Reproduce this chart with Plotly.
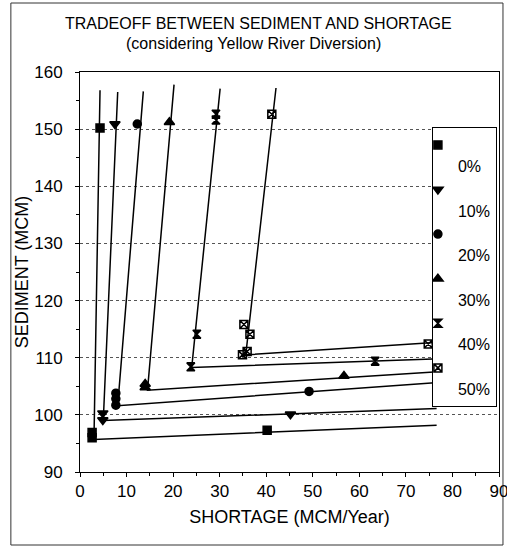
import plotly.graph_objects as go

# ---------------- data ----------------
series_names = ["0%", "10%", "20%", "30%", "40%", "50%"]

# observed points: shortage (MCM/Year) and sediment (MCM)
shortage_0 = [4.3, 2.6, 2.6, 40.2]
sediment_0 = [150.2, 96.9, 96.0, 97.3]
shortage_10 = [7.5, 4.9, 4.9, 45.2]
sediment_10 = [150.9, 100.3, 99.1, 100.1]
shortage_20 = [12.3, 7.7, 7.7, 7.7, 49.2]
sediment_20 = [150.9, 103.8, 102.8, 101.7, 104.1]
shortage_30 = [19.2, 14.0, 14.0, 56.7]
sediment_30 = [151.2, 105.4, 104.8, 106.8]
shortage_40 = [29.2, 29.2, 25.1, 23.8, 63.4]
sediment_40 = [152.6, 151.6, 114.1, 108.4, 109.4]
shortage_50 = [41.2, 35.2, 36.5, 34.9, 35.9, 74.8]
sediment_50 = [152.6, 115.8, 114.1, 110.5, 111.1, 112.4]

# fitted trade-off lines: top of steep part, corner, end of flat part
line_shortage_0 = [4.3, 3.0, 76.6]
line_sediment_0 = [156.8, 95.7, 98.2]
line_shortage_10 = [8.1, 5.0, 76.6]
line_sediment_10 = [156.5, 99.0, 101.1]
line_shortage_20 = [13.6, 8.1, 77.7]
line_sediment_20 = [156.6, 101.6, 105.7]
line_shortage_30 = [20.2, 14.5, 77.7]
line_sediment_30 = [157.8, 104.3, 107.6]
line_shortage_40 = [30.1, 24.0, 77.3]
line_sediment_40 = [157.1, 108.3, 109.8]
line_shortage_50 = [42.1, 35.6, 77.0]
line_sediment_50 = [157.2, 110.5, 112.7]

x_ticks = [0, 10, 20, 30, 40, 50, 60, 70, 80, 90]
y_ticks = [90, 100, 110, 120, 130, 140, 150, 160]

points = [
    (shortage_0, sediment_0), (shortage_10, sediment_10), (shortage_20, sediment_20),
    (shortage_30, sediment_30), (shortage_40, sediment_40), (shortage_50, sediment_50),
]
lines = [
    (line_shortage_0, line_sediment_0), (line_shortage_10, line_sediment_10),
    (line_shortage_20, line_sediment_20), (line_shortage_30, line_sediment_30),
    (line_shortage_40, line_sediment_40), (line_shortage_50, line_sediment_50),
]

# ---------------- styles ----------------
symbols = ["square", "triangle-down", "circle", "triangle-up", "hourglass", "square-x-open"]
sizes = [8, 9, 8, 9, 8, 8]
FONT = "Arial, Liberation Sans, sans-serif"

fig = go.Figure()
for (lx, ly) in lines:
    fig.add_trace(go.Scatter(x=lx, y=ly, mode="lines", showlegend=False,
                             line=dict(color="black", width=1.5), hoverinfo="skip"))
for name, (px_, py_), sym, sz in zip(series_names, points, symbols, sizes):
    fig.add_trace(go.Scatter(x=px_, y=py_, mode="markers", name="\u00a0<br>" + name,
                             marker=dict(symbol=sym, size=sz, color="black",
                                         line=dict(color="black", width=1.5))))

axis_common = dict(showline=True, linecolor="black", linewidth=1, mirror=True,
                   zeroline=False, ticks="outside", ticklen=4, tickcolor="black",
                   ticklabeloverflow="allow", automargin=False,
                   tickfont=dict(family=FONT, size=17, color="black"))

fig.update_layout(
    width=507, height=547,
    margin=dict(l=80, r=8, t=72, b=75),
    paper_bgcolor="white", plot_bgcolor="white",
    font=dict(family=FONT, color="black"),
    xaxis=dict(range=[0, 90], tickvals=x_ticks, showgrid=False,
               minor=dict(ticks="outside", dtick=5, ticklen=3, tickcolor="black"),
               ticklabelstandoff=0,
               title=dict(text="SHORTAGE (MCM/Year)", font=dict(family=FONT, size=18), standoff=9),
               **axis_common),
    yaxis=dict(range=[90, 160], tickvals=y_ticks, showgrid=True, gridcolor="#555",
               griddash="dot", gridwidth=1,
               minor=dict(ticks="outside", dtick=5, ticklen=3, tickcolor="black"),
               ticklabelstandoff=9,
               title=dict(text="SEDIMENT (MCM)", font=dict(family=FONT, size=18), standoff=0),
               **axis_common),
    xaxis2=dict(overlaying="x", anchor="y", side="bottom", range=[0, 90], tickvals=x_ticks,
                ticks="inside", ticklen=4, tickcolor="black", showticklabels=False,
                showgrid=False, zeroline=False, showline=False,
                minor=dict(ticks="inside", dtick=5, ticklen=3, tickcolor="black")),
    yaxis2=dict(overlaying="y", anchor="x", side="left", range=[90, 160], tickvals=y_ticks,
                ticks="inside", ticklen=4, tickcolor="black", showticklabels=False,
                showgrid=False, zeroline=False, showline=False,
                minor=dict(ticks="inside", dtick=5, ticklen=3, tickcolor="black")),
    legend=dict(x=0.995, xanchor="right", y=0.8625, yanchor="top",
                bgcolor="white", bordercolor="black", borderwidth=1,
                font=dict(family=FONT, size=16, color="black"),
                valign="top", indentation=-15, tracegroupgap=0),
    showlegend=True,
)

fig.add_annotation(text="TRADEOFF BETWEEN SEDIMENT AND SHORTAGE", xref="paper", yref="paper",
                   x=0.425, y=1.12, xanchor="center", yanchor="middle", showarrow=False,
                   font=dict(family=FONT, size=16, color="black"))
fig.add_annotation(text="(considering Yellow River Diversion)", xref="paper", yref="paper",
                   x=0.415, y=1.071, xanchor="center", yanchor="middle", showarrow=False,
                   font=dict(family=FONT, size=16, color="black"))

# outer frame of the figure
fig.add_shape(type="rect", xref="paper", yref="paper", x0=-0.165, x1=1.0095, y0=-0.1825, y1=1.1725,
              line=dict(color="#333", width=1), layer="below")

fig.write_html("out.html", config={"displayModeBar": False},
               post_script="document.body.style.margin='0px';")
